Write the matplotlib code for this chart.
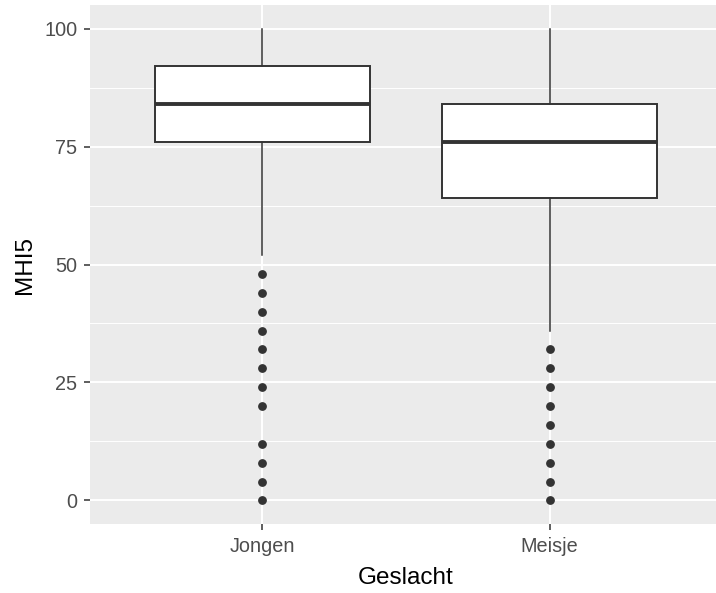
import matplotlib
matplotlib.use("Agg")
import matplotlib.pyplot as plt
from matplotlib.ticker import MultipleLocator

categories = ["Jongen", "Meisje"]
whisker_low = [52, 36]
q1 = [76, 64]
median = [84, 76]
q3 = [92, 84]
whisker_high = [100, 100]
outliers_jongen = [48, 44, 40, 36, 32, 28, 24, 20, 12, 8, 4, 0]
outliers_meisje = [32, 28, 24, 20, 16, 12, 8, 4, 0]
outliers = [outliers_jongen, outliers_meisje]
y_ticks = [0, 25, 50, 75, 100]

plt.rcParams['font.family'] = ['Liberation Sans', 'DejaVu Sans']

fig = plt.figure(figsize=(7.16, 5.93), dpi=100)
W, H = 716, 593
ax = fig.add_axes([90 / W, 69 / H, 632 / W, 519 / H])
ax.set_facecolor('#EBEBEB')
for s in ax.spines.values():
    s.set_visible(False)

stats = []
for i, c in enumerate(categories):
    stats.append(dict(label=c, whislo=whisker_low[i], q1=q1[i], med=median[i],
                      q3=q3[i], whishi=whisker_high[i], fliers=outliers[i]))

positions = list(range(1, len(categories) + 1))
dark = '#333333'
ax.bxp(stats, positions=positions, widths=0.75, patch_artist=True,
       showcaps=False,
       boxprops=dict(facecolor='white', edgecolor=dark, linewidth=1.4),
       medianprops=dict(color=dark, linewidth=2.8, solid_capstyle='butt'),
       whiskerprops=dict(color=dark, linewidth=1.1),
       flierprops=dict(marker='o', markerfacecolor=dark, markeredgecolor=dark,
                       markersize=5.3, linestyle='none'),
       zorder=3)

ax.set_xlim(0.4, 2.6)
ax.set_ylim(-5, 105)
ax.set_xticks(positions)
ax.set_xticklabels(categories)
ax.set_yticks(y_ticks)
ax.yaxis.set_minor_locator(MultipleLocator(12.5))

ax.grid(which='major', axis='both', color='white', linewidth=1.4, zorder=0)
ax.grid(which='minor', axis='y', color='white', linewidth=0.7, zorder=0)
ax.set_axisbelow(True)
ax.tick_params(which='minor', length=0)
ax.tick_params(which='major', length=4.5, width=1.1, color=dark,
               labelcolor='#4D4D4D', labelsize=14.3, pad=4.5)

ax.set_xlabel('Geslacht', fontsize=17.5, color='black')
ax.set_ylabel('MHI5', fontsize=17.5, color='black')
ax.xaxis.set_label_coords(0.5, -0.082)
ax.yaxis.set_label_coords(-0.086, 0.5)

fig.savefig('out.png', dpi=100, facecolor='white')
